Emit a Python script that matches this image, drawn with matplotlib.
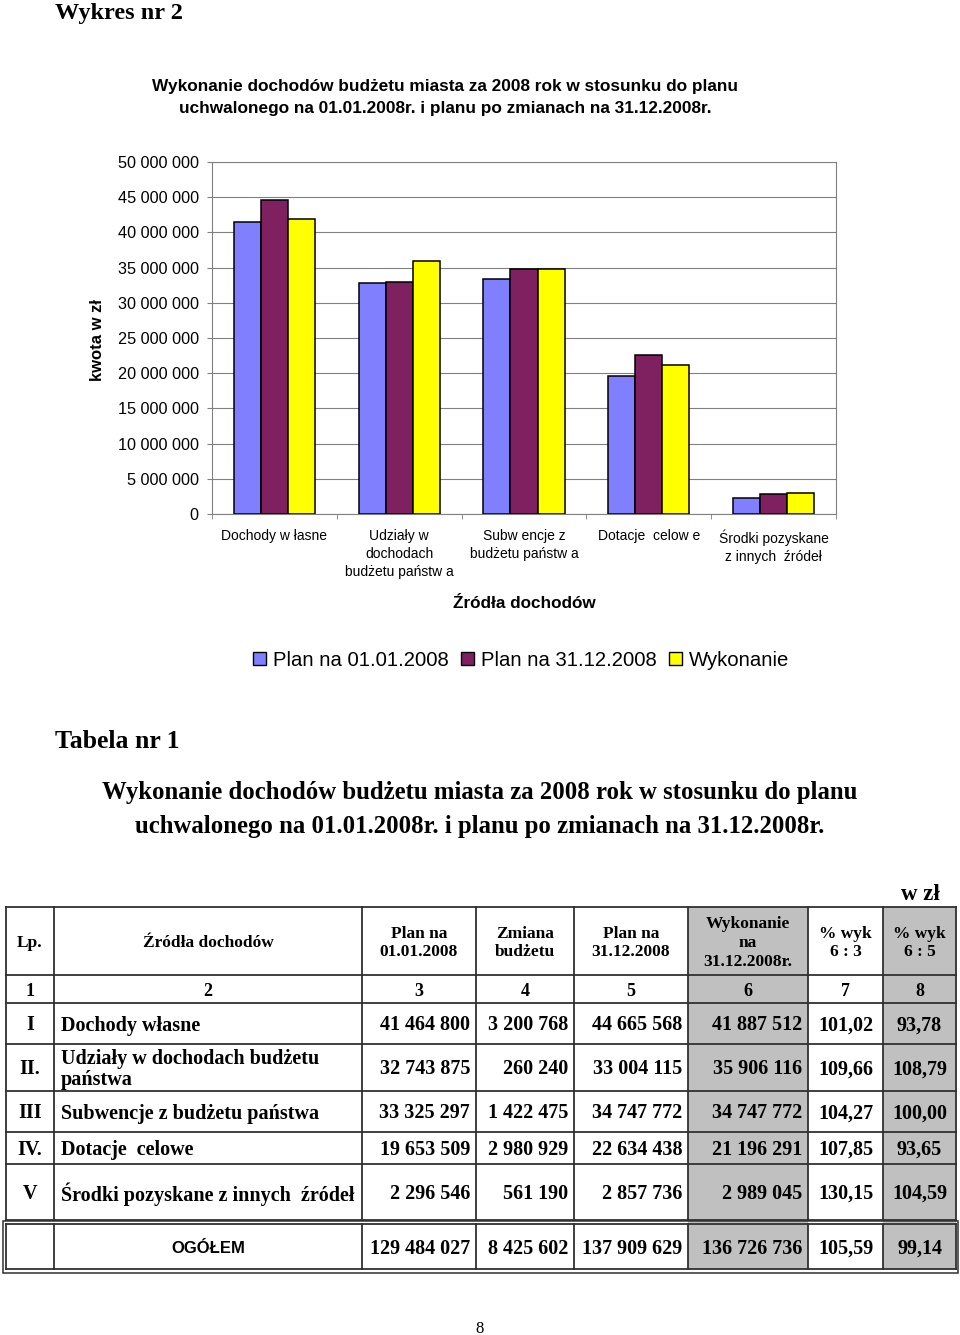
import numpy as np
import matplotlib
matplotlib.use("Agg")
import matplotlib.pyplot as plt
from matplotlib.ticker import FuncFormatter, MultipleLocator
from matplotlib.patches import Rectangle, Patch

# --- dane wykresu ---
kategorie = ["Dochody w łasne", "Udziały w\ndochodach\nbudżetu państw a",
             "Subw encje z\nbudżetu państw a", "Dotacje  celow e",
             "Środki pozyskane\nz innych  źródeł"]
serie = ["Plan na 01.01.2008", "Plan na 31.12.2008", "Wykonanie"]
kolory = ["#8080FF", "#7F2060", "#FFFF00"]

# --- dane tabeli ---
lp = ["I", "II.", "III", "IV.", "V"]
zrodla = ["Dochody własne", "Udziały w dochodach budżetu\npaństwa",
          "Subwencje z budżetu państwa", "Dotacje  celowe",
          "Środki pozyskane z innych  źródeł"]
plan_0101 = [41464800, 32743875, 33325297, 19653509, 2296546]
zmiana = [3200768, 260240, 1422475, 2980929, 561190]
plan_3112 = [44665568, 33004115, 34747772, 22634438, 2857736]
wykonanie = [41887512, 35906116, 34747772, 21196291, 2989045]
proc_6_3 = ["101,02", "109,66", "104,27", "107,85", "130,15"]
proc_6_5 = ["93,78", "108,79", "100,00", "93,65", "104,59"]
ogolem = [129484027, 8425602, 137909629, 136726736]
ogolem_proc = ["105,59", "99,14"]
naglowki = ["Lp.", "Źródła dochodów", "Plan na\n01.01.2008", "Zmiana\nbudżetu",
            "Plan na\n31.12.2008", "Wykonanie\nna\n31.12.2008r.", "% wyk\n6 : 3", "% wyk\n6 : 5"]


def fmt(v):
    return f"{int(v):,}".replace(",", " ")


W, H = 960, 1335
SANS = "Liberation Sans"
SERIF = "Liberation Serif"
DY = 2  # korekta pionowa tekstu

fig = plt.figure(figsize=(W / 100, H / 100), dpi=100)
page = fig.add_axes([0, 0, 1, 1])
page.set_xlim(0, W)
page.set_ylim(H, 0)
page.axis("off")


def txt(x, y, s, **kw):
    kw.setdefault("va", "center")
    kw.setdefault("zorder", 3)
    return page.text(x, y + DY, s, **kw)


# naglowki strony
txt(55, 11, "Wykres nr 2", family=SERIF, fontweight="bold", fontsize=17.5)
txt(445, 84, "Wykonanie dochodów budżetu miasta za 2008 rok w stosunku do planu",
    family=SANS, fontweight="bold", fontsize=12.4, ha="center")
txt(445, 106, "uchwalonego na 01.01.2008r. i planu po zmianach na 31.12.2008r.",
    family=SANS, fontweight="bold", fontsize=12.4, ha="center")

# --- wykres ---
ax = fig.add_axes([212 / W, 1 - 514 / H, 624 / W, 352 / H])
x = np.arange(len(kategorie))
bw = 0.217
for i, (vals, kol, nazwa) in enumerate(zip([plan_0101, plan_3112, wykonanie], kolory, serie)):
    ax.bar(x + (i - 1) * bw, vals, bw, color=kol, edgecolor="black", linewidth=1.1,
           label=nazwa, zorder=3)
ax.set_xlim(-0.5, len(kategorie) - 0.5)
ax.set_ylim(0, 50e6)
ax.yaxis.set_major_locator(MultipleLocator(5e6))
ax.yaxis.set_major_formatter(FuncFormatter(lambda v, p: fmt(v)))
ax.grid(axis="y", color="#808080", lw=0.8, zorder=0)
ax.set_xticks(x)
ax.set_xticklabels(kategorie, fontsize=10, family=SANS)
for t in ax.get_xticklabels():
    t.set_linespacing(1.35)
ax.set_xticks(np.arange(-0.5, len(kategorie)), minor=True)
ax.tick_params(axis="x", which="major", length=0, pad=11)
ax.tick_params(axis="x", which="minor", length=3.6, color="#808080")
ax.tick_params(axis="y", length=3.6, color="#808080", labelsize=11.7, pad=6)
for t in ax.get_yticklabels():
    t.set_family(SANS)
for s in ax.spines.values():
    s.set_color("#808080")

txt(97, 338, "kwota w zł", family=SANS, fontweight="bold", fontsize=12,
    ha="center", rotation=90, rotation_mode="anchor")
txt(524, 602, "Źródła dochodów", family=SANS, fontweight="bold", fontsize=12.3, ha="center")

uchwyty = [Patch(facecolor=k, edgecolor="black", linewidth=1.0) for k in kolory]
fig.legend(uchwyty, serie, loc="center", bbox_to_anchor=(521 / W, 1 - 660 / H), ncol=3,
           frameon=False, prop={"family": SANS, "size": 14.6}, handlelength=0.65,
           handleheight=0.65, handletextpad=0.35, columnspacing=0.6)

# --- tabela ---
txt(55, 740, "Tabela nr 1", family=SERIF, fontweight="bold", fontsize=18.5)
txt(480, 791, "Wykonanie dochodów budżetu miasta za 2008 rok w stosunku do planu",
    family=SERIF, fontweight="bold", fontsize=17.8, ha="center")
txt(480, 825, "uchwalonego na 01.01.2008r. i planu po zmianach na 31.12.2008r.",
    family=SERIF, fontweight="bold", fontsize=17.8, ha="center")
txt(920, 892, "w zł", family=SERIF, fontweight="bold", fontsize=16.5, ha="center")

cols = [6, 54, 362, 476, 574, 688, 808, 883, 956]
rows = [907, 975, 1003, 1044, 1091, 1132, 1164, 1220]
og_top, og_bot = 1224, 1269
szary = "#C0C0C0"
lc = "#303030"

for c in (5, 7):
    page.add_patch(Rectangle((cols[c], rows[0]), cols[c + 1] - cols[c], og_bot - rows[0],
                             facecolor=szary, edgecolor="none", zorder=1))

for r in rows:
    page.plot([cols[0], cols[-1]], [r, r], color=lc, lw=1.3, zorder=2)
for c in cols:
    page.plot([c, c], [rows[0], rows[-1]], color=lc, lw=1.3, zorder=2)
    page.plot([c, c], [og_top, og_bot], color=lc, lw=1.3, zorder=2)
page.plot([cols[0], cols[-1]], [og_top, og_top], color=lc, lw=1.3, zorder=2)
page.plot([cols[0], cols[-1]], [og_bot, og_bot], color=lc, lw=1.3, zorder=2)
page.add_patch(Rectangle((3, 1220.5), 955, 52.5, facecolor="none", edgecolor=lc, lw=1.1,
                         zorder=2))

srodki = [(cols[i] + cols[i + 1]) / 2 for i in range(len(cols) - 1)]

for i, t in enumerate(naglowki):
    txt(srodki[i], 941, t, family=SERIF, fontweight="bold", fontsize=12.5,
        ha="center", linespacing=1.25)
    txt(srodki[i], 989, str(i + 1), family=SERIF, fontweight="bold", fontsize=13, ha="center")

fs = 14.5
for j in range(len(lp)):
    yc = (rows[j + 2] + rows[j + 3]) / 2
    txt(srodki[0], yc, lp[j], family=SERIF, fontweight="bold", fontsize=fs, ha="center")
    txt(61, yc, zrodla[j], family=SERIF, fontweight="bold", fontsize=fs, ha="left",
        linespacing=1.05)
    for k, v in enumerate([plan_0101[j], zmiana[j], plan_3112[j], wykonanie[j]]):
        txt(cols[k + 3] - 6, yc, fmt(v), family=SERIF, fontweight="bold", fontsize=fs,
            ha="right")
    txt(srodki[6], yc, proc_6_3[j], family=SERIF, fontweight="bold", fontsize=fs, ha="center")
    txt(srodki[7], yc, proc_6_5[j], family=SERIF, fontweight="bold", fontsize=fs, ha="center")

yc = (og_top + og_bot) / 2
txt(srodki[1], yc, "OGÓŁEM", family=SANS, fontweight="bold", fontsize=12, ha="center")
for k, v in enumerate(ogolem):
    txt(cols[k + 3] - 6, yc, fmt(v), family=SERIF, fontweight="bold", fontsize=fs, ha="right")
txt(srodki[6], yc, ogolem_proc[0], family=SERIF, fontweight="bold", fontsize=fs, ha="center")
txt(srodki[7], yc, ogolem_proc[1], family=SERIF, fontweight="bold", fontsize=fs, ha="center")

txt(480, 1327, "8", family=SERIF, fontsize=12, ha="center")

fig.savefig("out.png", dpi=100)
